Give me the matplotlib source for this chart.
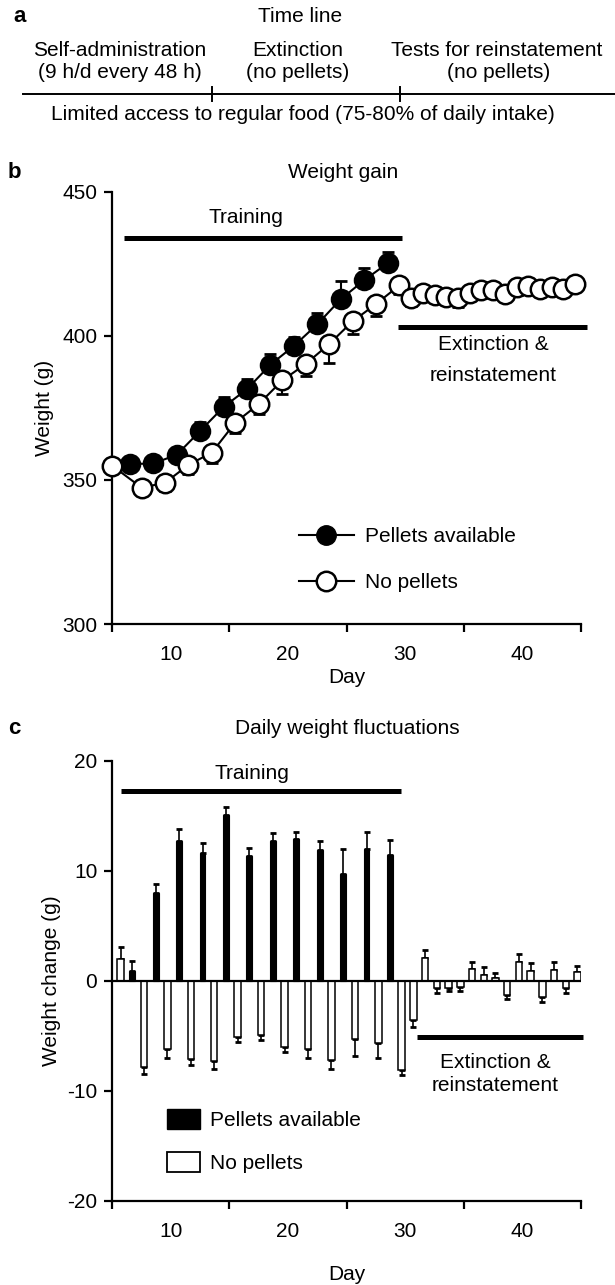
import numpy as np
import matplotlib
matplotlib.use('Agg')
import matplotlib.pyplot as plt
from matplotlib.patches import Patch
from matplotlib.lines import Line2D

plt.rcParams['font.family'] = ['Liberation Sans', 'DejaVu Sans']
plt.rcParams['axes.unicode_minus'] = False
FS = 15

# ---------------- Panel b data (weight gain) ----------------
pellet_days_b = [7, 9, 11, 13, 15, 17, 19, 21, 23, 25, 27, 29]
pellet_weight = [355.5, 355.7, 358.7, 367.0, 375.3, 381.5, 390.0, 396.5, 404.0, 412.7, 419.3, 425.2]
pellet_sem = [2.0, 2.0, 2.5, 3.0, 3.3, 3.4, 3.6, 3.0, 4.0, 6.3, 4.2, 4.0]

nopellet_days_b = [5.5, 8, 10, 12, 14, 16, 18, 20, 22, 24, 26, 28,
                   30, 31, 32, 33, 34, 35, 36, 37, 38, 39, 40, 41, 42, 43, 44, 45]
nopellet_weight = [354.9, 347.3, 349.0, 355.2, 359.5, 369.9, 376.3, 384.5, 390.2, 397.1, 405.0, 411.0,
                   417.5, 413.0, 414.8, 414.2, 413.6, 413.0, 415.0, 415.8, 415.8, 414.5, 416.8, 417.4,
                   416.2, 416.8, 416.2, 418.0]
nopellet_sem = [2.0, 2.5, 3.0, 3.0, 3.5, 3.5, 3.3, 4.7, 4.2, 6.4, 4.3, 4.0,
                3.0, 2.5, 2.5, 2.5, 2.5, 3.0, 2.5, 2.5, 2.5, 2.5, 2.5, 2.5, 2.5, 2.5, 2.5, 2.5]

# ---------------- Panel c data (daily weight fluctuations) ----------------
days_c = list(range(6, 46))
change_c = [1.95, 0.9, -7.8, 8.0, -6.2, 12.7, -7.1, 11.6, -7.3, 15.1,
            -5.15, 11.3, -4.9, 12.7, -6.0, 12.9, -6.2, 11.85, -7.2, 9.7,
            -5.3, 12.0, -5.7, 11.4, -8.1, -3.6, 2.1, -0.67, -0.67, -0.6,
            1.06, 0.55, 0.24, -1.3, 1.67, 0.9, -1.5, 1.0, -0.67, 0.76]
sem_c = [1.15, 0.9, 0.7, 0.8, 0.8, 1.1, 0.6, 0.9, 0.7, 0.7,
         0.45, 0.8, 0.5, 0.7, 0.5, 0.6, 0.8, 0.85, 0.8, 2.3,
         1.55, 1.5, 1.3, 1.4, 0.5, 0.6, 0.7, 0.48, 0.3, 0.37,
         0.64, 0.65, 0.43, 0.4, 0.73, 0.7, 0.4, 0.7, 0.43, 0.6]
pellet_days_c = list(range(7, 30, 2))

xtick_marks = [5, 15, 25, 35, 45]
xtick_labels = [10, 20, 30, 40]

W, H = 615, 1285
fig = plt.figure(figsize=(W / 100, H / 100), dpi=100)


def fx(x):
    return x / W


def fy(y):
    return 1 - y / H


# ---------------- Panel a: time line ----------------
fig.text(fx(20), fy(17), 'a', fontsize=16, fontweight='bold', ha='center', va='center')
fig.text(fx(300), fy(17), 'Time line', fontsize=FS, ha='center', va='center')
fig.text(fx(120), fy(51), 'Self-administration', fontsize=FS, ha='center', va='center')
fig.text(fx(120), fy(73), '(9 h/d every 48 h)', fontsize=FS, ha='center', va='center')
fig.text(fx(298), fy(51), 'Extinction', fontsize=FS, ha='center', va='center')
fig.text(fx(298), fy(73), '(no pellets)', fontsize=FS, ha='center', va='center')
fig.text(fx(497), fy(51), 'Tests for reinstatement', fontsize=FS, ha='center', va='center')
fig.text(fx(499), fy(73), '(no pellets)', fontsize=FS, ha='center', va='center')
fig.add_artist(Line2D([fx(23), fx(615)], [fy(94), fy(94)], color='black', lw=1.4))
for tx in (212, 400):
    fig.add_artist(Line2D([fx(tx), fx(tx)], [fy(87), fy(101)], color='black', lw=1.4))
fig.text(fx(303), fy(115), 'Limited access to regular food (75-80% of daily intake)',
         fontsize=FS, ha='center', va='center')


def style_axes(ax):
    for s in ('top', 'right'):
        ax.spines[s].set_visible(False)
    for s in ('left', 'bottom'):
        ax.spines[s].set_linewidth(1.6)
    ax.set_xlim(5, 45)
    ax.set_xticks(xtick_marks)
    ax.set_xticklabels([''] * len(xtick_marks))
    ax.set_xticks(xtick_labels, minor=True)
    ax.set_xticklabels([str(v) for v in xtick_labels], minor=True, fontsize=FS)
    ax.tick_params(axis='x', which='major', length=6, width=1.6, direction='out')
    ax.tick_params(axis='x', which='minor', length=0, pad=15)
    ax.tick_params(axis='y', length=5.8, width=1.6, pad=5, labelsize=FS)


# ---------------- Panel b ----------------
axb = fig.add_axes([fx(112.3), fy(624), fx(581) - fx(112.3), fy(191.7) - fy(624)])
style_axes(axb)
axb.set_ylim(300, 450)
axb.set_yticks([300, 350, 400, 450])
PT_SHIFT = 0.5
xb_p = np.array(pellet_days_b) - PT_SHIFT
xb_n = np.array(nopellet_days_b) - PT_SHIFT
axb.errorbar(xb_p, pellet_weight, yerr=[np.zeros(len(pellet_sem)), pellet_sem],
             fmt='none', ecolor='black', elinewidth=1.5, capsize=4, capthick=2, zorder=2)
axb.errorbar(xb_n, nopellet_weight, yerr=[nopellet_sem, np.zeros(len(nopellet_sem))],
             fmt='none', ecolor='black', elinewidth=1.5, capsize=4, capthick=2, zorder=2)
axb.plot(xb_p, pellet_weight, '-o', color='black', lw=1.5, ms=14, mfc='black', mec='black',
         mew=1.5, zorder=3, clip_on=False)
axb.plot(xb_n, nopellet_weight, '-o', color='black', lw=1.5, ms=14, mfc='white', mec='black',
         mew=1.8, zorder=4, clip_on=False)
axb.plot([6.0, 29.76], [433.8, 433.8], color='black', lw=3.6, solid_capstyle='butt')
axb.text(16.4, 440.9, 'Training', fontsize=FS, ha='center', va='center')
axb.plot([29.4, 45.5], [403.2, 403.2], color='black', lw=3.6, solid_capstyle='butt', clip_on=False)
axb.text(37.5, 396.9, 'Extinction &', fontsize=FS, ha='center', va='center')
axb.text(37.5, 386.1, 'reinstatement', fontsize=FS, ha='center', va='center')
axb.set_ylabel('Weight (g)', fontsize=FS, labelpad=6)
axb.set_xlabel('Day', fontsize=FS, labelpad=3)
hb = [Line2D([], [], color='black', lw=1.5, marker='o', ms=14, mfc='black', mec='black'),
      Line2D([], [], color='black', lw=1.5, marker='o', ms=14, mfc='white', mec='black', mew=1.8)]
axb.legend(hb, ['Pellets available', 'No pellets'], loc='upper left',
           bbox_to_anchor=(0.3975, 0.2244), frameon=False, fontsize=FS,
           borderpad=0, borderaxespad=0,
           handlelength=2.64, handletextpad=0.55, labelspacing=1.31)
fig.text(fx(14), fy(172), 'b', fontsize=16, fontweight='bold', ha='center', va='center')
fig.text(fx(343), fy(172), 'Weight gain', fontsize=FS, ha='center', va='center')

# ---------------- Panel c ----------------
axc = fig.add_axes([fx(112.3), fy(1200.7), fx(581) - fx(112.3), fy(760.7) - fy(1200.7)])
style_axes(axc)
axc.set_ylim(-20, 20)
axc.set_yticks([-20, -10, 0, 10, 20])
BAR_SHIFT = 0.3
for d, v, e in zip(days_c, change_c, sem_c):
    pel = d in pellet_days_c
    x = d - BAR_SHIFT
    if pel:
        axc.bar(x, v, width=0.5, color='black', edgecolor='black', lw=0.8, zorder=3)
    else:
        axc.bar(x, v, width=0.55, color='white', edgecolor='black', lw=1.1, zorder=3)
    if v >= 0:
        yerr = [[0], [e]]
    else:
        yerr = [[e], [0]]
    axc.errorbar([x], [v], yerr=yerr, fmt='none', ecolor='black', elinewidth=1.2,
                 capsize=2, capthick=2, zorder=2)
axc.axhline(0, color='black', lw=1.6, zorder=4)
axc.plot([5.77, 29.6], [17.2, 17.2], color='black', lw=3.6, solid_capstyle='butt')
axc.text(16.9, 18.85, 'Training', fontsize=FS, ha='center', va='center')
axc.plot([31.0, 45.2], [-5.1, -5.1], color='black', lw=3.6, solid_capstyle='butt', clip_on=False)
axc.text(37.7, -7.4, 'Extinction &', fontsize=FS, ha='center', va='center')
axc.text(37.7, -9.5, 'reinstatement', fontsize=FS, ha='center', va='center')
axc.set_ylabel('Weight change (g)', fontsize=FS, labelpad=4)
axc.set_xlabel('Day', fontsize=FS, labelpad=17.5)
hc = [Patch(facecolor='black', edgecolor='black'), Patch(facecolor='white', edgecolor='black', lw=1.3)]
axc.legend(hc, ['Pellets available', 'No pellets'], loc='upper left',
           bbox_to_anchor=(0.117, 0.2084), frameon=False, fontsize=FS,
           borderpad=0, borderaxespad=0,
           handlelength=1.56, handleheight=1.09, handletextpad=0.51, labelspacing=1.07)
fig.text(fx(14), fy(728), 'c', fontsize=16, fontweight='bold', ha='center', va='center')
fig.text(fx(347), fy(728), 'Daily weight fluctuations', fontsize=FS, ha='center', va='center')

fig.savefig('out.png', dpi=100)
